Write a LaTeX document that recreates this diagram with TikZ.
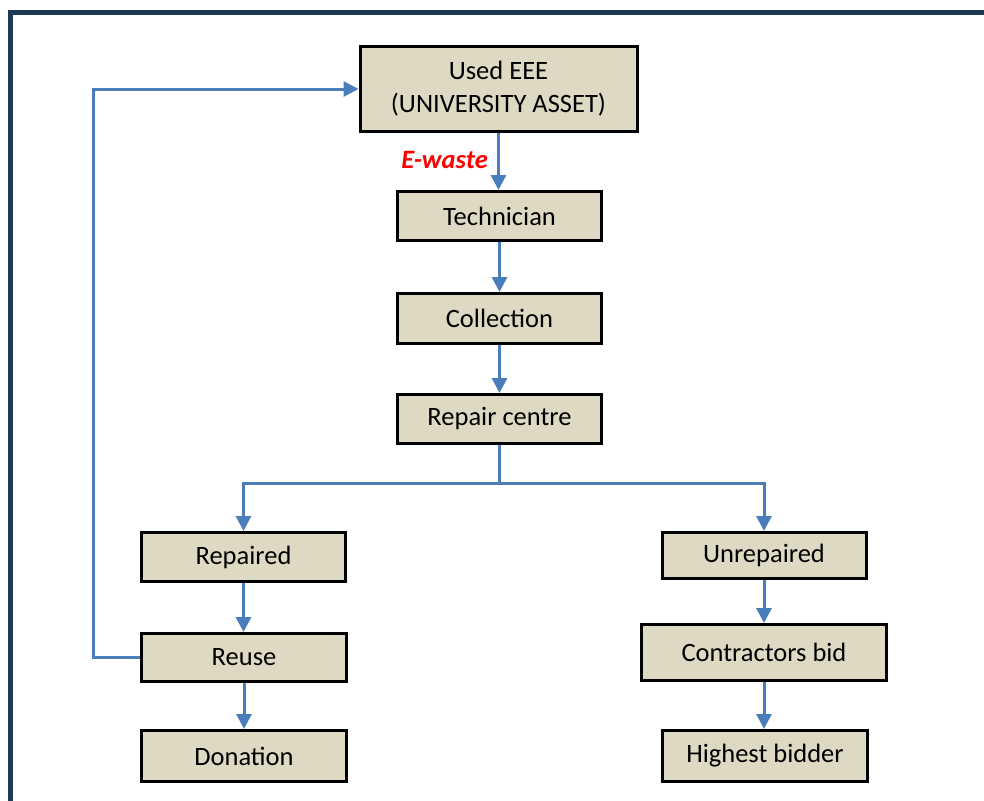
\documentclass[tikz,border=0pt]{standalone}
\usepackage{fontspec}
\setmainfont{Carlito}
\usetikzlibrary{arrows.meta}
\definecolor{boxfill}{HTML}{DDD9C3}
\definecolor{flowblue}{HTML}{4A7EBB}
\definecolor{framenavy}{HTML}{1F3A55}
\tikzset{
  stepbox/.style={draw=black, line width=3pt, fill=boxfill, inner sep=0pt,
    align=center, font=\fontsize{26.5}{33}\selectfont},
  flow/.style={draw=flowblue, line width=3pt, -{Triangle[width=15pt,length=15pt]}},
  flowline/.style={draw=flowblue, line width=3pt},
}
\begin{document}
\begin{tikzpicture}[x=1pt,y=-1pt]
\useasboundingbox (0,0) rectangle (984,800);
\draw[framenavy, line width=5pt] (10,810) -- (10,12.5) -- (994,12.5);

\node[stepbox, minimum width=277pt, minimum height=85pt] (used) at (498.5,89) {Used EEE\\(UNIVERSITY ASSET)};
\node[stepbox, minimum width=204pt, minimum height=49pt] (tech) at (499.5,216) {Technician};
\node[stepbox, minimum width=204pt, minimum height=50pt] (coll) at (499.5,318.5) {Collection};
\node[stepbox, minimum width=204pt, minimum height=49pt] (rep) at (499.5,419) {Repair centre};
\node[stepbox, minimum width=204pt, minimum height=49pt] (repaired) at (243.5,557) {Repaired};
\node[stepbox, minimum width=205pt, minimum height=48pt] (reuse) at (244,657.5) {Reuse};
\node[stepbox, minimum width=205pt, minimum height=51pt] (don) at (244,756) {Donation};
\node[stepbox, minimum width=204pt, minimum height=46pt] (unrep) at (764,555.5) {Unrepaired};
\node[stepbox, minimum width=245pt, minimum height=56pt] (contr) at (764,652.5) {Contractors bid};
\node[stepbox, minimum width=205pt, minimum height=51pt] (high) at (765,756) {Highest bidder};

\node[text=red, font=\fontsize{26.5}{30}\selectfont\bfseries\itshape, anchor=east, inner sep=0pt] (ew) at (488,160) {E-waste};

\draw[flow] (used.south) -- (used.south |- tech.north);
\draw[flow] (tech.south) -- (coll.north);
\draw[flow] (coll.south) -- (rep.north);

\coordinate (branch) at (499.5,483);
\draw[flowline] (rep.south) -- (branch);
\draw[flow] (branch) -| (repaired.north);
\draw[flow] (branch) -| (unrep.north);

\draw[flow] (repaired.south) -- (repaired.south |- reuse.north);
\draw[flow] (reuse.south) -- (don.north);
\draw[flow] (unrep.south) -- (contr.north);
\draw[flow] (contr.south) -- (contr.south |- high.north);

\coordinate (lp) at (93,657.5);
\draw[flow] (reuse.west) -- (lp) |- (used.west);
\end{tikzpicture}
\end{document}
